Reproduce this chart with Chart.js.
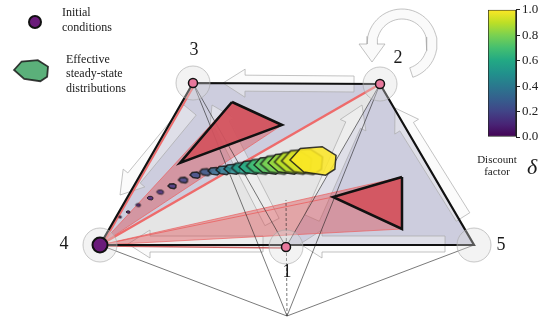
<!DOCTYPE html>
<html>
<head>
<meta charset="utf-8">
<script src="https://cdn.jsdelivr.net/npm/chart.js@4.4.0/dist/chart.umd.min.js"></script>
<style>
  html, body { margin: 0; padding: 0; background: #fff; overflow: hidden; }
  #wrap { position: relative; width: 549px; height: 323px; }
  #main { position: absolute; left: 0; top: 0; }
  #cbar { position: absolute; left: 480px; top: 0; }
</style>
</head>
<body>
<div id="wrap">
  <canvas id="main" width="549" height="323"></canvas>
  <canvas id="cbar" width="69" height="150"></canvas>
</div>
<script>
// nodes of the diagram (plot units = pixels of the 549x323 figure, y down)
const nodeNames = ['1', '2', '3', '4', '5'];
const nodeX = [286, 380, 193, 100, 474];
const nodeY = [247, 84, 83, 245, 245];
const nodeLabelX = [287, 398, 194, 64, 501];
const nodeLabelY = [272, 58, 50, 244, 245];
const apexX = 287, apexY = 316;

// red target triangles
const triUpX = [232, 282, 180];
const triUpY = [102, 125, 163];
const triRightX = [402, 402, 333];
const triRightY = [177, 229, 197];

// effective steady-state distributions, coloured by discount factor
const steadyX = [120, 128, 138, 150, 160, 172, 183, 195, 205, 214, 223, 232, 241, 250, 259, 268, 276, 285, 293, 302, 313];
const steadyY = [217, 212, 205, 198, 192, 186, 180, 175, 172, 171, 170, 169, 168, 167, 166, 165, 164, 163, 162, 161, 160];
const steadyW = [3, 4, 5, 6, 7, 8, 9, 10, 11, 12, 14, 16, 19, 22, 25, 28, 31, 34, 37, 41, 46];
const steadyDelta = [0.02, 0.04, 0.07, 0.1, 0.13, 0.16, 0.2, 0.24, 0.28, 0.33, 0.4, 0.47, 0.55, 0.62, 0.69, 0.75, 0.8, 0.85, 0.9, 0.95, 1.0];

// faint transition arrows: [fromX, fromY, toX, toY]
const arrowsFrom = [[354, 84], [263, 244], [445, 244], [463, 217], [190, 110], [272, 222], [312, 218]];
const arrowsTo = [[223, 83], [128, 244], [300, 244], [395, 108], [120, 195], [212, 105], [362, 105]];

// colour bar
const cbTicks = [0, 0.2, 0.4, 0.6, 0.8, 1.0];

// texts
const legendText = ['Initial', 'conditions', 'Effective', 'steady-state', 'distributions'];
const legendTextX = [62, 62, 66, 66, 66];
const legendTextY = [13, 28, 60, 74, 89];

const viridis = ['#440154', '#482475', '#414487', '#355f8d', '#2a788e', '#21918c', '#22a884', '#44bf70', '#7ad151', '#bddf26', '#fde725'];

function viridisAt(t, alpha) {
  const p = Math.min(Math.max(t, 0), 1) * (viridis.length - 1);
  const i = Math.min(Math.floor(p), viridis.length - 2), f = p - i;
  const a = viridis[i], b = viridis[i + 1];
  const c = k => Math.round(parseInt(a.substr(k, 2), 16) * (1 - f) + parseInt(b.substr(k, 2), 16) * f);
  return 'rgba(' + c(1) + ',' + c(3) + ',' + c(5) + ',' + alpha + ')';
}

const pts = (xs, ys) => xs.map((x, i) => ({x: x, y: ys[i]}));
const closed = arr => arr.concat([arr[0]]);

function blockArrow(x1, y1, x2, y2, bw, hw, hl) {
  const L = Math.hypot(x2 - x1, y2 - y1), ux = (x2 - x1) / L, uy = (y2 - y1) / L, nx = -uy, ny = ux;
  const bx = x2 - ux * hl, by = y2 - uy * hl;
  return closed([
    {x: x1 + nx * bw, y: y1 + ny * bw}, {x: bx + nx * bw, y: by + ny * bw}, {x: bx + nx * hw, y: by + ny * hw},
    {x: x2, y: y2},
    {x: bx - nx * hw, y: by - ny * hw}, {x: bx - nx * bw, y: by - ny * bw}, {x: x1 - nx * bw, y: y1 - ny * bw}
  ]);
}

function loopArrow(cx, cy, r, w, a0, a1, hw, hl) {
  const out = [], inn = [], n = 40;
  for (let i = 0; i <= n; i++) {
    const a = (a0 + (a1 - a0) * i / n) * Math.PI / 180;
    out.push({x: cx + (r + w / 2) * Math.cos(a), y: cy + (r + w / 2) * Math.sin(a)});
    inn.unshift({x: cx + (r - w / 2) * Math.cos(a), y: cy + (r - w / 2) * Math.sin(a)});
  }
  const a = a1 * Math.PI / 180, tx = Math.sin(a), ty = -Math.cos(a);
  const mx = cx + r * Math.cos(a), my = cy + r * Math.sin(a);
  const head = [
    {x: cx + (r + hw) * Math.cos(a), y: cy + (r + hw) * Math.sin(a)},
    {x: mx + tx * hl, y: my + ty * hl},
    {x: cx + (r - hw) * Math.cos(a), y: cy + (r - hw) * Math.sin(a)}
  ];
  return closed(out.concat(head, inn));
}

const hexShape = [[-1, 0], [-0.55, -0.5], [0.4, -0.58], [1, -0.2], [0.95, 0.4], [0.55, 0.66], [-0.4, 0.52]];
function hexImage(w, fill, lw) {
  const c = document.createElement('canvas');
  const s = Math.ceil(w + 6);
  c.width = s; c.height = s;
  const g = c.getContext('2d');
  g.beginPath();
  hexShape.forEach((p, i) => {
    const px = s / 2 + p[0] * w / 2, py = s / 2 + p[1] * w / 2;
    if (i === 0) g.moveTo(px, py); else g.lineTo(px, py);
  });
  g.closePath();
  g.fillStyle = fill;
  g.fill();
  g.lineWidth = lw;
  g.strokeStyle = 'rgba(25,25,25,0.85)';
  g.stroke();
  return c;
}
const steadyImgs = steadyW.map((w, i) => hexImage(w, viridisAt(steadyDelta[i], 0.85), w < 8 ? 1 : 1.5));
const legendImg = [hexImage(34, '#5bb07a', 1.8)];

const N = k => ({x: nodeX[k], y: nodeY[k]});
const apex = {x: apexX, y: apexY};

function poly(data, fill, stroke, width) {
  return {data: data, showLine: true, fill: 'shape', backgroundColor: fill, borderColor: stroke,
    borderWidth: width, pointRadius: 0, tension: 0};
}
function line(data, color, width, dash) {
  return {data: data, showLine: true, fill: false, borderColor: color, borderWidth: width,
    borderDash: dash || [], pointRadius: 0, tension: 0};
}

const ds = [];
// simplex region
ds.push(poly(closed([N(2), N(1), N(4), N(3)]), 'rgba(75,75,135,0.28)', 'rgba(0,0,0,0)', 0));
// inner gray triangle
ds.push(poly(closed([N(3), N(1), N(0)]), '#e5e5e5', 'rgba(0,0,0,0)', 0));
// faint transition arrows
arrowsFrom.forEach((f, i) => {
  ds.push(poly(blockArrow(f[0], f[1], arrowsTo[i][0], arrowsTo[i][1], 8, 14, 22), 'rgba(246,246,246,0.45)', 'rgba(170,170,170,0.7)', 1));
});
ds.push(poly(loopArrow(402, 44, 30, 10, 72, -180, 13, 18), 'rgba(246,246,246,0.6)', 'rgba(170,170,170,0.7)', 1));
// red cones from initial condition
ds.push(poly(closed([N(3), {x: triUpX[0], y: triUpY[0]}, {x: triUpX[1], y: triUpY[1]}]), 'rgba(220,60,65,0.38)', 'rgba(235,95,95,0.7)', 1));
ds.push(poly(closed([N(3), {x: triRightX[0], y: triRightY[0]}, {x: triRightX[1], y: triRightY[1]}]), 'rgba(220,60,65,0.38)', 'rgba(235,95,95,0.7)', 1));
ds.push(line([N(3), {x: triRightX[2], y: triRightY[2]}], 'rgba(235,95,95,0.8)', 1));
// thin projection lines
[N(1), N(2), N(3), N(4)].forEach(p => ds.push(line([apex, p], 'rgba(30,30,30,0.85)', 0.7)));
ds.push(line([N(0), N(2)], 'rgba(30,30,30,0.85)', 0.7));
ds.push(line([N(0), N(1)], 'rgba(30,30,30,0.85)', 0.7));
ds.push(line([apex, {x: nodeX[0], y: 200}], 'rgba(30,30,30,0.85)', 0.7, [3, 2]));
// red triangles
ds.push(poly(closed(pts(triUpX, triUpY)), 'rgba(212,84,94,0.92)', '#111', 2.5));
ds.push(poly(closed(pts(triRightX, triRightY)), 'rgba(212,84,94,0.92)', '#111', 2.5));
// red edges and polytope outline
ds.push(line([N(3), N(1)], '#ee6b6b', 2.5));
ds.push(line([{x: nodeX[3] + 2, y: nodeY[3]}, {x: nodeX[2] + 2, y: nodeY[2] + 1}], '#ee6b6b', 2));
ds.push(line([{x: nodeX[3], y: nodeY[3] + 1}, {x: nodeX[0], y: nodeY[0] + 1}], 'rgba(190,60,60,0.8)', 1.5));
ds.push(line([N(3), N(2), N(1), N(4), N(3)], '#111', 2.2));
// faint circles round the states
ds.push({data: pts(nodeX, nodeY), pointRadius: 17, pointBackgroundColor: 'rgba(222,222,222,0.35)',
  pointBorderColor: 'rgba(165,165,165,0.6)', pointBorderWidth: 1});
// steady-state distributions
ds.push({data: pts(steadyX, steadyY), pointStyle: c => steadyImgs[c.dataIndex]});
// state dots
ds.push({data: [N(0), N(1), N(2)], pointRadius: 4.5, pointBackgroundColor: '#e8789c', pointBorderColor: '#111', pointBorderWidth: 1.5});
ds.push({data: [N(3), {x: 35, y: 22}], pointRadius: [7.5, 6], pointBackgroundColor: '#6a1b7a', pointBorderColor: '#111', pointBorderWidth: 2});
ds.push({data: [{x: 31, y: 70}], pointStyle: legendImg[0]});
ds.forEach((d, i) => { d.order = 1000 - i; });

const serif = '"Liberation Serif", "DejaVu Serif", serif';
const textPlugin = {
  id: 'texts',
  afterDatasetsDraw(chart) {
    const {ctx, scales: {x, y}} = chart;
    ctx.save();
    ctx.fillStyle = '#1a1a1a';
    ctx.textBaseline = 'middle';
    ctx.textAlign = 'center';
    ctx.font = '18px ' + serif;
    nodeNames.forEach((n, i) => ctx.fillText(n, x.getPixelForValue(nodeLabelX[i]), y.getPixelForValue(nodeLabelY[i])));
    ctx.textAlign = 'left';
    ctx.font = '12px ' + serif;
    legendText.forEach((t, i) => ctx.fillText(t, x.getPixelForValue(legendTextX[i]), y.getPixelForValue(legendTextY[i])));
    ctx.textAlign = 'center';
    ctx.font = '11px ' + serif;
    ctx.fillText('Discount', x.getPixelForValue(497), y.getPixelForValue(160));
    ctx.fillText('factor', x.getPixelForValue(497), y.getPixelForValue(172));
    ctx.font = 'italic 22px ' + serif;
    ctx.fillText('δ', x.getPixelForValue(532), y.getPixelForValue(168));
    ctx.restore();
  }
};

new Chart(document.getElementById('main'), {
  type: 'scatter',
  data: {datasets: ds},
  options: {
    responsive: false,
    animation: false,
    events: [],
    layout: {padding: 0, autoPadding: false},
    plugins: {legend: {display: false}, tooltip: {enabled: false}},
    scales: {
      x: {type: 'linear', min: 0, max: 549, display: false},
      y: {type: 'linear', min: 0, max: 323, reverse: true, display: false}
    }
  },
  plugins: [textPlugin]
});

new Chart(document.getElementById('cbar'), {
  type: 'bar',
  data: {
    labels: [''],
    datasets: [{
      data: [[cbTicks[0], cbTicks[cbTicks.length - 1]]],
      backgroundColor: c => {
        const a = c.chart.chartArea;
        if (!a) return viridis[5];
        const g = c.chart.ctx.createLinearGradient(0, a.bottom, 0, a.top);
        viridis.forEach((col, i) => g.addColorStop(i / (viridis.length - 1), col));
        return g;
      },
      borderColor: '#222',
      borderWidth: 1,
      borderSkipped: false,
      barPercentage: 1,
      categoryPercentage: 1
    }]
  },
  options: {
    responsive: false,
    animation: false,
    events: [],
    layout: {padding: {left: 8, top: 8, right: 0, bottom: 13}},
    plugins: {legend: {display: false}, tooltip: {enabled: false}},
    scales: {
      x: {display: false},
      y: {
        position: 'right',
        min: 0, max: 1,
        afterFit: s => { s.width = 33; },
        afterBuildTicks: s => { s.ticks = cbTicks.map(v => ({value: v})); },
        ticks: {callback: v => v.toFixed(1), font: {family: serif, size: 13}, color: '#222', padding: 2},
        grid: {drawOnChartArea: false, tickLength: 4, color: '#222'},
        border: {color: '#222'}
      }
    }
  }
});
</script>
</body>
</html>
